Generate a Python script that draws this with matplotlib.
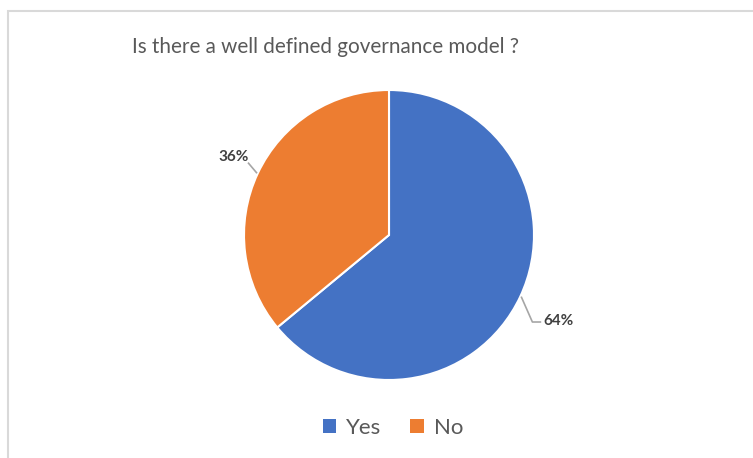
import numpy as np
import matplotlib.pyplot as plt
from matplotlib.patches import Rectangle

# Data
labels = ['Yes', 'No']
shares = [64, 36]
colors = ['#4472C4', '#ED7D31']

plt.rcParams['font.family'] = ['Lato', 'DejaVu Sans']

W, H = 753, 458
fig = plt.figure(figsize=(W / 100, H / 100), dpi=100)

# light border like the Excel chart area
fig.patches.append(Rectangle((8 / W, -0.01), 1.0, (H - 10.5) / H + 0.01,
                             transform=fig.transFigure, fill=False,
                             edgecolor='#D9D9D9', linewidth=1.5))

# pie axes in pixel terms: centre (389, 235), radius 145
cx, cy, r = 389, 235, 145
ax = fig.add_axes([(cx - r) / W, (H - cy - r) / H, 2 * r / W, 2 * r / H])
wedges, _ = ax.pie(shares, colors=colors, startangle=90, counterclock=False,
                   radius=1, wedgeprops=dict(edgecolor='white', linewidth=1.5))
ax.set_xlim(-1, 1)
ax.set_ylim(-1, 1)
ax.set_aspect('equal')
ax.axis('off')

# data labels with leader lines
for w, s in zip(wedges, shares):
    mid = np.deg2rad((w.theta1 + w.theta2) / 2)
    ex, ey = np.cos(mid) * 1.01, np.sin(mid) * 1.01
    if np.cos(mid) > 0:
        ax.plot([ex, ex + 0.075, ex + 0.13], [ey, ey - 0.17, ey - 0.17],
                color='#A6A6A6', lw=1.2, clip_on=False)
        ax.text(ex + 0.15, ey - 0.165, f'{s}%', ha='left', va='center',
                fontsize=11, fontweight='bold', color='#404040')
    else:
        ax.plot([ex, ex - 0.055], [ey, ey + 0.065],
                color='#A6A6A6', lw=1.2, clip_on=False)
        ax.text(ex - 0.055, ey + 0.11, f'{s}%', ha='right', va='center',
                fontsize=11, fontweight='bold', color='#404040')

fig.text(325 / W, 1 - 47 / H, 'Is there a well defined governance model ?',
         ha='center', va='center', fontsize=14.9, color='#595959')

handles = [Rectangle((0, 0), 1, 1, facecolor=c) for c in colors]
fig.legend(handles, labels, loc='center', bbox_to_anchor=(393 / W, 1 - 428 / H),
           ncol=2, frameon=False, fontsize=16, labelcolor='#595959',
           handlelength=0.6, handleheight=0.6, handletextpad=0.45,
           columnspacing=1.3)

fig.savefig('out.png', dpi=100)
